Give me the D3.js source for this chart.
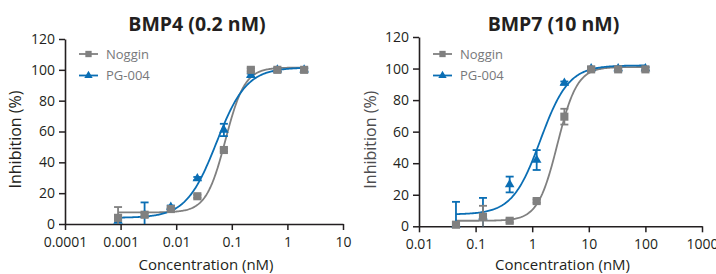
<!DOCTYPE html>
<html>
<head>
<meta charset="utf-8">
<script src="https://cdn.jsdelivr.net/npm/d3@7"></script>
<style>
  body { margin: 0; background: #fff; }
  svg { display: block; }
  text { font-family: "Open Sans", sans-serif; }
</style>
</head>
<body>
<svg id="chart" width="716" height="274"></svg>
<script>
    "use strict";

    // series / legend
    var seriesNames = ["Noggin", "PG-004"];
    var seriesColors = ["#808080", "#0a6eb4"];

    // BMP4 (0.2 nM) panel
    var bmp4Conc = [0.0009, 0.0027, 0.008, 0.024, 0.072, 0.22, 0.66, 2.0];
    var bmp4Noggin = [4, 6, 9.7, 18, 48, 100, 100, 100];
    var bmp4NogginErr = [7, 1, 1, 1, 1, 1, 1, 1];
    var bmp4Pg004 = [2, 6, 11, 29.5, 61, 96.5, 100, 100];
    var bmp4Pg004Err = [2, 8, 1, 1, 4, 1, 1, 1];
    // 4PL fit: bottom, top, logEC50, hill
    var bmp4NogginFit = [7.5, 101.5, -1.114, 2.5];
    var bmp4Pg004Fit = [4, 101.5, -1.276, 1.6];
    var bmp4Ticks = [0.0001, 0.001, 0.01, 0.1, 1, 10];
    var bmp4TickLabels = ["0.0001", "0.001", "0.01", "0.1", "1", "10"];

    // BMP7 (10 nM) panel
    var bmp7Conc = [0.045, 0.135, 0.4, 1.2, 3.7, 11, 33, 100];
    var bmp7Noggin = [1, 6, 3.5, 16, 69.5, 99.5, 99.5, 99.5];
    var bmp7NogginErr = [1, 7, 1, 1, 5, 1, 1, 1];
    var bmp7Pg004 = [1, 6, 26.5, 42, 90.8, 100, 100, 100];
    var bmp7Pg004Err = [14.5, 12, 5, 6.3, 1, 1, 1, 1];
    var bmp7NogginFit = [3.5, 101, 0.447, 2.5];
    var bmp7Pg004Fit = [7.5, 102, 0.146, 1.75];
    var bmp7Ticks = [0.01, 0.1, 1, 10, 100, 1000];
    var bmp7TickLabels = ["0.01", "0.1", "1", "10", "100", "1000"];

    var yTicks = [0, 20, 40, 60, 80, 100, 120];

    var svg = d3.select("#chart");
    var axisColor = "#231f20";

    var panels = [
        {
            title: "BMP4 (0.2 nM)",
            xr: [65, 343], yr: [224, 39],
            domain: [0.0001, 10],
            conc: bmp4Conc,
            values: [bmp4Noggin, bmp4Pg004],
            errs: [bmp4NogginErr, bmp4Pg004Err],
            fits: [bmp4NogginFit, bmp4Pg004Fit],
            ticks: bmp4Ticks, tickLabels: bmp4TickLabels,
            ylabelX: 16, ylabelColor: "#231f20"
        },
        {
            title: "BMP7 (10 nM)",
            xr: [419, 702], yr: [226.3, 37],
            domain: [0.01, 1000],
            conc: bmp7Conc,
            values: [bmp7Noggin, bmp7Pg004],
            errs: [bmp7NogginErr, bmp7Pg004Err],
            fits: [bmp7NogginFit, bmp7Pg004Fit],
            ticks: bmp7Ticks, tickLabels: bmp7TickLabels,
            ylabelX: 371, ylabelColor: "#4d4d4f"
        }
    ];

    function logistic(p, c) {
        return p[0] + (p[1] - p[0]) / (1 + Math.pow(10, (p[2] - Math.log10(c)) * p[3]));
    }

    panels.forEach(function (pn) {
        var x = d3.scaleLog().domain(pn.domain).range(pn.xr);
        var y = d3.scaleLinear().domain([0, 120]).range(pn.yr);
        var g = svg.append("g");
        var midX = (pn.xr[0] + pn.xr[1]) / 2;

        // title
        g.append("text")
            .attr("x", midX - 7).attr("y", 30.5)
            .attr("text-anchor", "middle")
            .attr("font-size", 19.5).attr("font-weight", 700)
            .attr("fill", axisColor)
            .text(pn.title);

        // axes
        var yAxis = d3.axisLeft(y).tickValues(yTicks).tickSize(6).tickPadding(4).tickSizeOuter(0);
        var gy = g.append("g").attr("transform", "translate(" + pn.xr[0] + ",0)").call(yAxis);
        var xAxis = d3.axisBottom(x).tickValues(pn.ticks)
            .tickFormat(function (d, i) { return pn.tickLabels[i]; })
            .tickSize(6).tickPadding(7).tickSizeOuter(0);
        var gx = g.append("g").attr("transform", "translate(0," + pn.yr[0] + ")").call(xAxis);

        [gx, gy].forEach(function (a) {
            a.selectAll(".domain").attr("stroke", axisColor).attr("stroke-width", 1.6);
            a.selectAll(".tick line").attr("stroke", axisColor).attr("stroke-width", 1.5);
            a.selectAll("text").attr("fill", axisColor).attr("font-size", 14)
                .attr("font-family", "'Open Sans', sans-serif");
        });

        // axis titles
        g.append("text")
            .attr("x", midX + 2).attr("y", 270)
            .attr("text-anchor", "middle")
            .attr("font-size", 15).attr("fill", axisColor)
            .text("Concentration (nM)");
        g.append("text")
            .attr("transform", "translate(" + (pn.ylabelX + 5) + "," + ((pn.yr[0] + pn.yr[1]) / 2 + 8) + ") rotate(-90)")
            .attr("text-anchor", "middle")
            .attr("font-size", 16).attr("fill", pn.ylabelColor)
            .text("Inhibition (%)");

        // fitted curves
        var line = d3.line().x(function (d) { return x(d[0]); }).y(function (d) { return y(d[1]); });
        var lo = Math.log10(pn.conc[0]), hi = Math.log10(pn.conc[pn.conc.length - 1]);
        [0, 1].forEach(function (s) {
            var pts = d3.range(0, 201).map(function (i) {
                var c = Math.pow(10, lo + (hi - lo) * i / 200);
                return [c, logistic(pn.fits[s], c)];
            });
            g.append("path").datum(pts)
                .attr("d", line).attr("fill", "none")
                .attr("stroke", seriesColors[s]).attr("stroke-width", 1.8);
        });

        // markers + error bars, PG-004 under Noggin
        [1, 0].forEach(function (s) {
            var sg = g.append("g");
            var color = seriesColors[s];
            pn.conc.forEach(function (c, i) {
                var v = pn.values[s][i], e = pn.errs[s][i];
                var cx = x(c);
                var top = y(v + e), bot = y(Math.max(0, v - e));
                sg.append("line").attr("x1", cx).attr("x2", cx).attr("y1", top).attr("y2", bot)
                    .attr("stroke", color).attr("stroke-width", 1.8);
                sg.append("line").attr("x1", cx - 4).attr("x2", cx + 4).attr("y1", top).attr("y2", top)
                    .attr("stroke", color).attr("stroke-width", 1.8);
                if (v - e > 0) {
                    sg.append("line").attr("x1", cx - 4).attr("x2", cx + 4).attr("y1", bot).attr("y2", bot)
                        .attr("stroke", color).attr("stroke-width", 1.8);
                }
            });
            var sym = d3.symbol().type(s === 0 ? d3.symbolSquare : d3.symbolTriangle).size(s === 0 ? 66 : 40);
            sg.selectAll("path.m").data(pn.conc).enter().append("path")
                .attr("class", "m")
                .attr("d", sym)
                .attr("transform", function (c, i) { return "translate(" + x(c) + "," + y(pn.values[s][i]) + ")"; })
                .attr("fill", color);
        });

        // legend
        var lx = pn.xr[0] + 14;
        [0, 1].forEach(function (s) {
            var ly = 54 + s * 21.5;
            g.append("line").attr("x1", lx).attr("x2", lx + 19).attr("y1", ly).attr("y2", ly)
                .attr("stroke", seriesColors[s]).attr("stroke-width", 1.8);
            g.append("path")
                .attr("d", d3.symbol().type(s === 0 ? d3.symbolSquare : d3.symbolTriangle).size(s === 0 ? 40 : 30))
                .attr("transform", "translate(" + (lx + 9.5) + "," + ly + ")")
                .attr("fill", seriesColors[s]);
            g.append("text")
                .attr("x", lx + 27).attr("y", ly + 4.5)
                .attr("font-size", 13).attr("fill", "#77787b")
                .text(seriesNames[s]);
        });
    });
</script>
</body>
</html>
